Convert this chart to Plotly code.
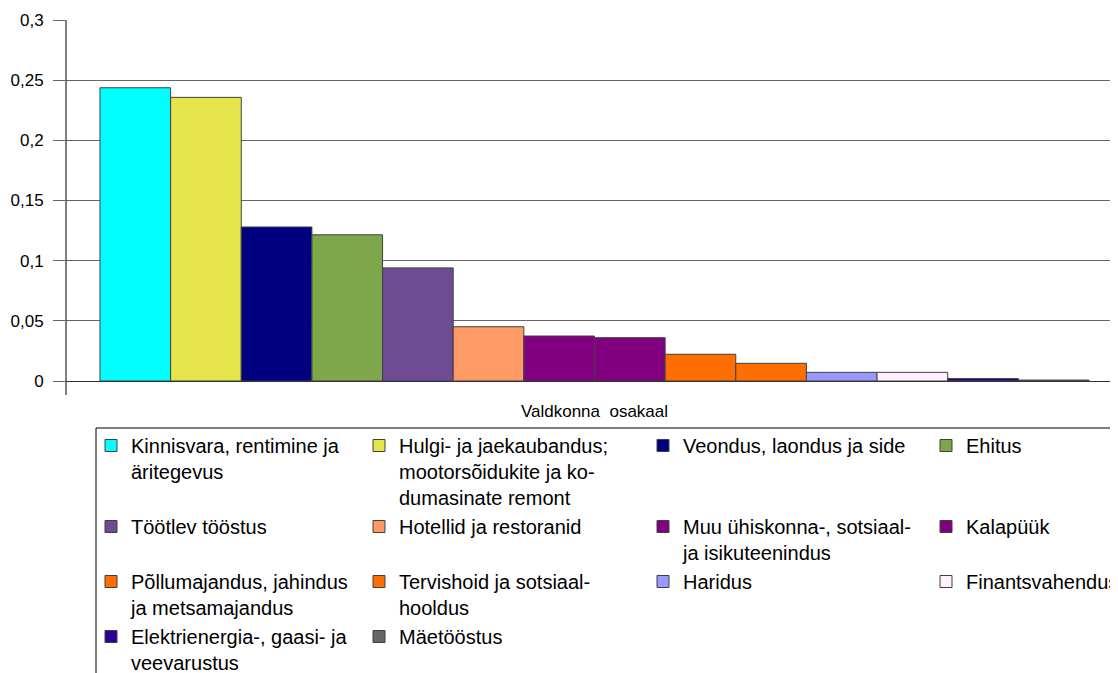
import plotly.graph_objects as go

# The page body adds an 8px margin, so the figure is drawn 8px smaller and
# all layout pixel positions below are given in page pixels minus OFF.
OFF = 8
W, H = 1118 - OFF, 673 - OFF

category = "Valdkonna\u00a0 osakaal"
sectors = [
    "Kinnisvara, rentimine ja<br>äritegevus",
    "Hulgi- ja jaekaubandus;<br>mootorsõidukite ja ko-<br>dumasinate remont",
    "Veondus, laondus ja side",
    "Ehitus",
    "Töötlev tööstus",
    "Hotellid ja restoranid",
    "Muu ühiskonna-, sotsiaal-<br>ja isikuteenindus",
    "Kalapüük",
    "Põllumajandus, jahindus<br>ja metsamajandus",
    "Tervishoid ja sotsiaal-<br>hooldus",
    "Haridus",
    "Finantsvahendus",
    "Elektrienergia-, gaasi- ja<br>veevarustus",
    "Mäetööstus",
]
shares = [0.2437, 0.2357, 0.128, 0.1215, 0.094, 0.0451, 0.0374, 0.036,
          0.0222, 0.0147, 0.0072, 0.0072, 0.0020, 0.0008]
colors = ["#00FFFF", "#E6E64C", "#000080", "#7EA64A", "#6D4C94", "#FF9966",
          "#800080", "#800080", "#FF6E00", "#FF6E00", "#9999FF", "#FFF0FF",
          "#2A0096", "#666666"]

y_tickvals = [0, 0.05, 0.1, 0.15, 0.2, 0.25, 0.3]
y_ticktext = ["0", "0,05", "0,1", "0,15", "0,2", "0,25", "0,3"]


def px(p):
    return (p - OFF) / W


def py(p):
    return 1 - (p - OFF) / H


NCOL = 4
legend_ids = ["legend", "legend2", "legend3", "legend4"]
text_x = [131, 399, 683, 966]  # page pixels where legend text starts

# pad labels so that legend rows line up across columns
nrows = (len(sectors) + NCOL - 1) // NCOL
row_lines = []
for r in range(nrows):
    row_lines.append(max(s.count("<br>") + 1 for s in sectors[r * NCOL:(r + 1) * NCOL]))

fig = go.Figure()
for i, (name, v, c) in enumerate(zip(sectors, shares, colors)):
    r, col = divmod(i, NCOL)
    pad = row_lines[r] - (name.count("<br>") + 1)
    label = name + "<br>\u00a0" * pad
    fig.add_trace(go.Bar(
        x=[category], y=[v], name=label,
        marker=dict(color=c, line=dict(color="#404040", width=1)),
        legend=legend_ids[col],
    ))

font_family = "Liberation Sans, Arial, sans-serif"
legend_font = dict(family=font_family, size=20, color="black")
legend_top = 426
layout_legends = {}
for col, lid in enumerate(legend_ids):
    layout_legends[lid] = dict(
        x=px(text_x[col] - 40), xanchor="left",
        y=py(legend_top), yanchor="top",
        orientation="v", valign="top",
        font=legend_font, bgcolor="rgba(0,0,0,0)", borderwidth=0,
        tracegroupgap=0,
    )

fig.update_layout(
    width=W, height=H,
    margin=dict(l=0, r=0, t=0, b=0, autoexpand=False),
    paper_bgcolor="white", plot_bgcolor="white",
    barmode="group", bargap=0.0643, bargroupgap=0,
    font=dict(family=font_family, size=17, color="black"),
    showlegend=True,
    **layout_legends,
    xaxis=dict(
        domain=[px(66), 1.0], type="category", range=[-0.5, 0.4953],
        showgrid=False, showline=False, ticks="", zeroline=False,
        tickfont=dict(size=17, color="black"), ticklabelstandoff=18,
    ),
    yaxis=dict(
        domain=[py(381), py(20)], range=[0, 0.3],
        tickvals=y_tickvals, ticktext=y_ticktext,
        ticks="outside", ticklen=12, tickcolor="#666666", tickwidth=1,
        showgrid=True, gridcolor="#666666", gridwidth=1,
        zeroline=True, zerolinecolor="#333333", zerolinewidth=1,
        showline=False, tickfont=dict(size=17, color="black"),
        ticklabelstandoff=6,
    ),
    shapes=[
        dict(type="line", xref="paper", yref="paper",
             x0=px(66), x1=px(66), y0=py(20), y1=py(395),
             line=dict(color="black", width=1)),
        dict(type="rect", xref="paper", yref="paper",
             x0=px(96), x1=px(1140), y0=py(428), y1=py(700),
             line=dict(color="black", width=1), fillcolor="rgba(0,0,0,0)",
             layer="below"),
    ],
)

fig.write_html("out.html")
